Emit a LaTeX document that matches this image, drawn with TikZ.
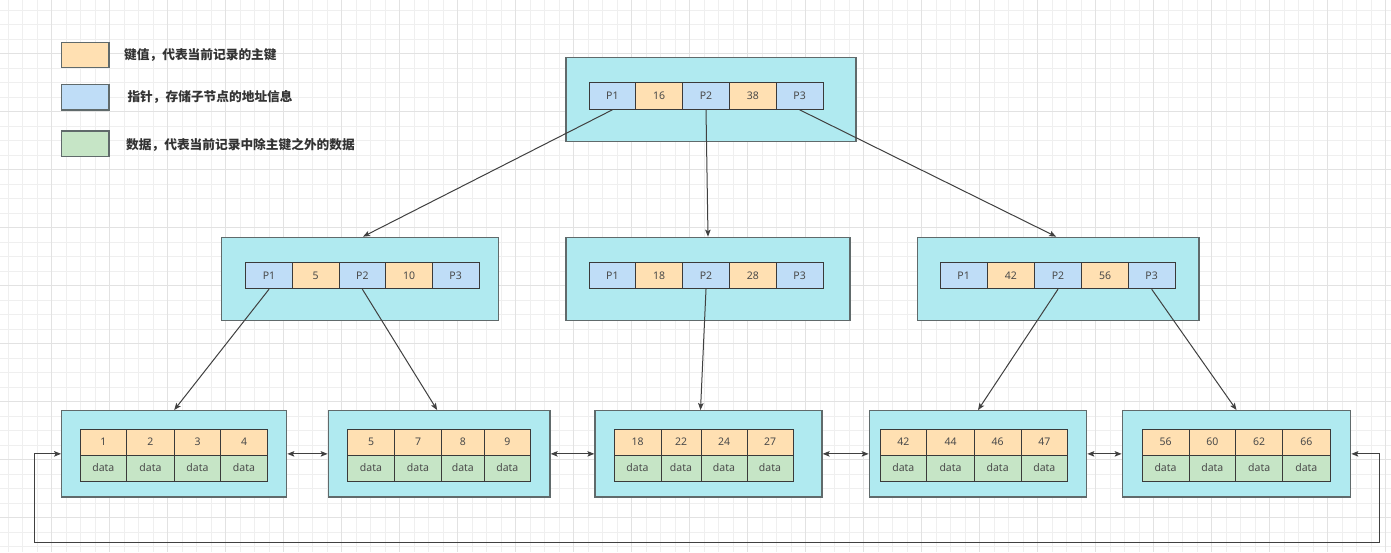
\documentclass[tikz,border=0pt]{standalone}
\usepackage{fontspec}
\setmainfont{Noto Sans}
\newfontfamily\cjk{Noto Sans CJK SC}
\usetikzlibrary{arrows.meta}
\definecolor{boxc}{HTML}{B0EAF0}
\definecolor{boxline}{HTML}{606A6B}
\definecolor{keyc}{HTML}{FFE0B2}
\definecolor{ptrc}{HTML}{BFDDF7}
\definecolor{datc}{HTML}{C6E5C6}
\definecolor{cellline}{HTML}{3A3A3A}
\definecolor{txt}{HTML}{4A4A4A}
\definecolor{linkc}{HTML}{404040}
\definecolor{gridminor}{HTML}{EFEFEF}
\definecolor{gridmajor}{HTML}{E2E2E2}
\newcommand\mkcell[7]{\node[#2, minimum width={#4pt-#3pt}, minimum height={#6pt-#5pt}] (#1) at ({(#3+#4)/2},{(#5+#6)/2}) {#7};}
\tikzset{
  cell/.style={draw=cellline, line width=1pt, inner sep=0pt, text=txt, font=\fontsize{10.5}{12}\selectfont},
  keycell/.style={cell, fill=keyc},
  ptrcell/.style={cell, fill=ptrc},
  datcell/.style={cell, fill=datc},
  outerbox/.style={draw=boxline, line width=1.3pt, fill=boxc, inner sep=0pt},
  legbox/.style={draw=boxline, line width=1.4pt, inner sep=0pt},
  legtext/.style={anchor=west, inner sep=0pt, text=black!80, font=\cjk\bfseries\fontsize{12.7}{14}\selectfont},
  link/.style={draw=linkc, line width=1pt, -{Stealth[length=7pt,width=5.5pt,inset=1.5pt]}},
  dlink/.style={draw=linkc, line width=1pt, {Stealth[length=7pt,width=5.5pt,inset=1.5pt]}-{Stealth[length=7pt,width=5.5pt,inset=1.5pt]}},
  minorline/.style={draw=gridminor, line width=0.8pt},
  majorline/.style={draw=gridmajor, line width=0.8pt}
}
\begin{document}
\begin{tikzpicture}[x=1pt,y=-1pt]
\useasboundingbox (0,0) rectangle (1391,552);
\fill[white] (0,0) rectangle (1391,552);
% grid
\foreach \i in {0,...,95} {\draw[minorline] ({8+14.5*\i},0) -- ++(0,552);}
\foreach \j in {0,...,38} {\draw[minorline] (0,{10+14.5*\j}) -- ++(1391,0);}
\foreach \i in {0,...,23} {\draw[majorline] ({51.5+58*\i},0) -- ++(0,552);}
\foreach \j in {0,...,9} {\draw[majorline] (0,{53.5+58*\j}) -- ++(1391,0);}

% legend
\mkcell{legk}{legbox, fill=keyc}{61.7}{109}{42.3}{67.7}{}
\mkcell{legp}{legbox, fill=ptrc}{61.7}{109}{84.3}{110}{}
\mkcell{legd}{legbox, fill=datc}{61.7}{109}{131}{156.7}{}
\node[legtext] (legkt) at (124,55) {键值，代表当前记录的主键};
\node[legtext] (legpt) at (127.3,97.3) {指针，存储子节点的地址信息};
\node[legtext] (legdt) at (126,145) {数据，代表当前记录中除主键之外的数据};

% root
\mkcell{root}{outerbox}{566}{856}{57.3}{141.7}{}
\mkcell{rp1}{ptrcell}{589}{635.8}{82.7}{109.3}{P1}
\mkcell{rk1}{keycell}{635.8}{682.6}{82.7}{109.3}{16}
\mkcell{rp2}{ptrcell}{682.6}{729.4}{82.7}{109.3}{P2}
\mkcell{rk2}{keycell}{729.4}{776.2}{82.7}{109.3}{38}
\mkcell{rp3}{ptrcell}{776.2}{823}{82.7}{109.3}{P3}

% level 2 left
\mkcell{la}{outerbox}{221.7}{498.3}{237.3}{320.7}{}
\mkcell{lap1}{ptrcell}{245.7}{292.4}{262.3}{288.7}{P1}
\mkcell{lak1}{keycell}{292.4}{339}{262.3}{288.7}{5}
\mkcell{lap2}{ptrcell}{339}{385.7}{262.3}{288.7}{P2}
\mkcell{lak2}{keycell}{385.7}{432.3}{262.3}{288.7}{10}
\mkcell{lap3}{ptrcell}{432.3}{479}{262.3}{288.7}{P3}

% level 2 middle
\mkcell{lb}{outerbox}{566}{850}{237.3}{320.7}{}
\mkcell{lbp1}{ptrcell}{589}{635.8}{262.3}{288.7}{P1}
\mkcell{lbk1}{keycell}{635.8}{682.6}{262.3}{288.7}{18}
\mkcell{lbp2}{ptrcell}{682.6}{729.4}{262.3}{288.7}{P2}
\mkcell{lbk2}{keycell}{729.4}{776.2}{262.3}{288.7}{28}
\mkcell{lbp3}{ptrcell}{776.2}{823}{262.3}{288.7}{P3}

% level 2 right
\mkcell{lc}{outerbox}{917.3}{1199}{237.3}{320.7}{}
\mkcell{lcp1}{ptrcell}{940}{987.3}{262.3}{288.7}{P1}
\mkcell{lck1}{keycell}{987.3}{1034.3}{262.3}{288.7}{42}
\mkcell{lcp2}{ptrcell}{1034.3}{1081.7}{262.3}{288.7}{P2}
\mkcell{lck2}{keycell}{1081.7}{1128.3}{262.3}{288.7}{56}
\mkcell{lcp3}{ptrcell}{1128.3}{1175}{262.3}{288.7}{P3}

% leaves
\mkcell{fa}{outerbox}{61.7}{286.7}{410.7}{497}{}
\mkcell{fak1}{keycell}{80}{126.7}{429.3}{455}{1}
\mkcell{fak2}{keycell}{126.7}{174.3}{429.3}{455}{2}
\mkcell{fak3}{keycell}{174.3}{220.7}{429.3}{455}{3}
\mkcell{fak4}{keycell}{220.7}{267.3}{429.3}{455}{4}
\mkcell{fad1}{datcell}{80}{126.7}{455}{481}{data}
\mkcell{fad2}{datcell}{126.7}{174.3}{455}{481}{data}
\mkcell{fad3}{datcell}{174.3}{220.7}{455}{481}{data}
\mkcell{fad4}{datcell}{220.7}{267.3}{455}{481}{data}

\mkcell{fb}{outerbox}{328.3}{550}{410.7}{497}{}
\mkcell{fbk1}{keycell}{347.7}{394.3}{429.3}{455}{5}
\mkcell{fbk2}{keycell}{394.3}{441.7}{429.3}{455}{7}
\mkcell{fbk3}{keycell}{441.7}{484}{429.3}{455}{8}
\mkcell{fbk4}{keycell}{484}{530.7}{429.3}{455}{9}
\mkcell{fbd1}{datcell}{347.7}{394.3}{455}{481}{data}
\mkcell{fbd2}{datcell}{394.3}{441.7}{455}{481}{data}
\mkcell{fbd3}{datcell}{441.7}{484}{455}{481}{data}
\mkcell{fbd4}{datcell}{484}{530.7}{455}{481}{data}

\mkcell{fc}{outerbox}{595}{822}{410.7}{497}{}
\mkcell{fck1}{keycell}{614}{661}{429.3}{455}{18}
\mkcell{fck2}{keycell}{661}{701}{429.3}{455}{22}
\mkcell{fck3}{keycell}{701}{747}{429.3}{455}{24}
\mkcell{fck4}{keycell}{747}{793}{429.3}{455}{27}
\mkcell{fcd1}{datcell}{614}{661}{455}{481}{data}
\mkcell{fcd2}{datcell}{661}{701}{455}{481}{data}
\mkcell{fcd3}{datcell}{701}{747}{455}{481}{data}
\mkcell{fcd4}{datcell}{747}{793}{455}{481}{data}

\mkcell{fd}{outerbox}{869.3}{1086.7}{410.7}{497}{}
\mkcell{fdk1}{keycell}{880}{926.7}{429.3}{455}{42}
\mkcell{fdk2}{keycell}{926.7}{974.3}{429.3}{455}{44}
\mkcell{fdk3}{keycell}{974.3}{1021}{429.3}{455}{46}
\mkcell{fdk4}{keycell}{1021}{1067.7}{429.3}{455}{47}
\mkcell{fdd1}{datcell}{880}{926.7}{455}{481}{data}
\mkcell{fdd2}{datcell}{926.7}{974.3}{455}{481}{data}
\mkcell{fdd3}{datcell}{974.3}{1021}{455}{481}{data}
\mkcell{fdd4}{datcell}{1021}{1067.7}{455}{481}{data}

\mkcell{fe}{outerbox}{1122.3}{1350.7}{410.7}{497}{}
\mkcell{fek1}{keycell}{1142}{1189}{429.3}{455}{56}
\mkcell{fek2}{keycell}{1189}{1235.7}{429.3}{455}{60}
\mkcell{fek3}{keycell}{1235.7}{1282.7}{429.3}{455}{62}
\mkcell{fek4}{keycell}{1282.7}{1330}{429.3}{455}{66}
\mkcell{fed1}{datcell}{1142}{1189}{455}{481}{data}
\mkcell{fed2}{datcell}{1189}{1235.7}{455}{481}{data}
\mkcell{fed3}{datcell}{1235.7}{1282.7}{455}{481}{data}
\mkcell{fed4}{datcell}{1282.7}{1330}{455}{481}{data}

% tree links
\draw[link] (rp1.south) -- ([xshift=3pt]la.north);
\draw[link] (rp2.south) -- (lb.north);
\draw[link] (rp3.south) -- ([xshift=-2pt]lc.north);
\draw[link] (lap1.south) -- (fa.north);
\draw[link] (lap2.south) -- ([xshift=-2pt]fb.north);
\draw[link] (lbp2.south) -- ([xshift=-8pt]fc.north);
\draw[link] (lcp2.south) -- (fd.north);
\draw[link] (lcp3.south) -- (fe.north);

% leaf links
\draw[dlink] (fa.east) -- (fb.west);
\draw[dlink] (fb.east) -- (fc.west);
\draw[dlink] (fc.east) -- (fd.west);
\draw[dlink] (fd.east) -- (fe.west);
\coordinate (loopR) at (1379,542.7);
\coordinate (loopL) at (34.7,542.7);
\draw[dlink] (fe.east) -| (loopR) -- (loopL) |- (fa.west);
\end{tikzpicture}
\end{document}
